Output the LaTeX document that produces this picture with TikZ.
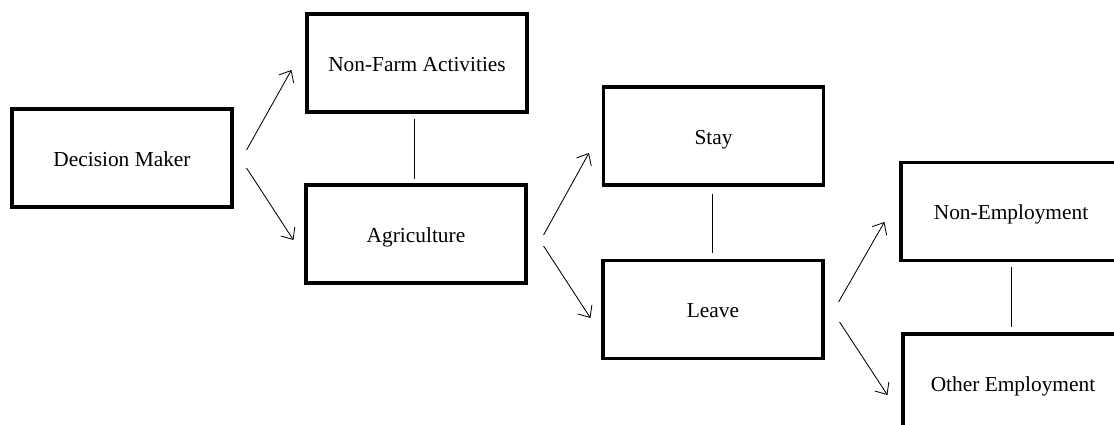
\documentclass[tikz,border=0pt]{standalone}
\usepackage{fontspec}
\setmainfont{Liberation Serif}
\usetikzlibrary{arrows.meta}

\tikzset{
    choicebox/.style={draw, line width=2.2pt, rectangle, minimum width=5.5cm, minimum height=2.45cm, inner sep=0pt, text height=11.6pt, text depth=0pt, font=\fontsize{15.2}{18}\selectfont},
    branch/.style={->, line width=0.6pt, >={Straight Barb[length=2.4mm,width=4.2mm]}},
    tie/.style={line width=0.6pt}
}

\begin{document}
\begin{tikzpicture}[x=0.025cm, y=-0.025cm]
        \useasboundingbox (0,0) rectangle (1114,425);
        \clip (0,0) rectangle (1114,425);

        % Boxes
        \node[choicebox] (dm) at (122,158) {Decision Maker};
        \node[choicebox] (nf) at (417,63) {Non-Farm Activities};
        \node[choicebox] (ag) at (416,234) {Agriculture};
        \node[choicebox] (st) at (713.5,136) {Stay};
        \node[choicebox] (lv) at (713,309.5) {Leave};
        \node[choicebox] (ne) at (1011,211.5) {Non-Employment};
        \node[choicebox] (oe) at (1013,383) {Other Employment};

        % Branching arrows
        \draw[branch] ([shift={(13,-8)}]dm.east) -- ([shift={(-14,7)}]nf.west);
        \draw[branch] ([shift={(13,10)}]dm.east) -- ([shift={(-11,6)}]ag.west);
        \draw[branch] ([shift={(16,1)}]ag.east) -- ([shift={(-13,17)}]st.west);
        \draw[branch] ([shift={(16,12)}]ag.east) -- ([shift={(-11,8.5)}]lv.west);
        \draw[branch] ([shift={(14,-7.5)}]lv.east) -- ([shift={(-15,10.5)}]ne.west);
        \draw[branch] ([shift={(15,12.5)}]lv.east) -- ([shift={(-14,12)}]oe.west);

        % Lines between alternatives
        \draw[tie] ([shift={(-3,5)}]nf.south) -- ([shift={(-2,-4)}]ag.north);
        \draw[tie] ([shift={(-1.5,7)}]st.south) -- ([shift={(-1,-6)}]lv.north);
        \draw[tie] ([shift={(0,5)}]ne.south) -- ([shift={(-2,-5)}]oe.north);
    \end{tikzpicture}
\end{document}
